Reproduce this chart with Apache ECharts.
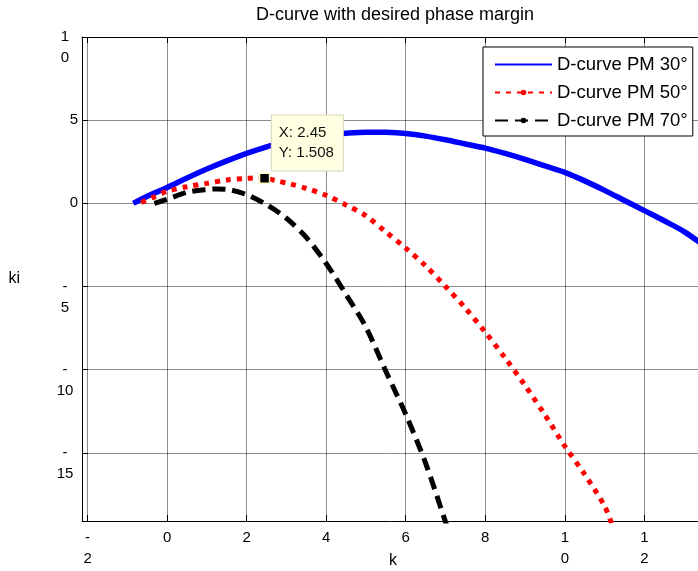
<!DOCTYPE html>
<html>
<head>
<meta charset="utf-8">
<script src="https://cdn.jsdelivr.net/npm/echarts@6/dist/echarts.min.js"></script>
<style>
html,body{margin:0;padding:0;background:#fff;}
#chart{width:698px;height:571px;}
</style>
</head>
<body>
<div id="chart"></div>
<script>
// ---- data ----
const pm30X = [-0.85, -0.5, 0, 0.5, 1, 1.5, 2, 2.5, 3, 3.5, 4, 4.5, 5, 5.5, 6, 6.5, 7, 7.5, 8, 8.5, 9, 9.5, 10, 10.5, 11, 11.5, 12, 12.5, 13, 13.6];
const pm30Y = [0, 0.42, 0.95, 1.52, 2.06, 2.55, 3.0, 3.4, 3.74, 3.98, 4.12, 4.22, 4.28, 4.27, 4.2, 4.04, 3.82, 3.57, 3.32, 3.0, 2.64, 2.25, 1.86, 1.35, 0.78, 0.17, -0.44, -1.05, -1.7, -2.72];

const pm50X = [-0.65, -0.35, 0, 0.5, 1, 1.5, 2, 2.25, 2.45, 2.75, 3.1, 3.5, 4, 4.5, 5, 5.5, 6, 6.5, 7, 7.5, 8, 8.5, 9, 9.5, 10, 10.5, 11, 11.2];
const pm50Y = [0.05, 0.36, 0.72, 1.0, 1.2, 1.4, 1.5, 1.53, 1.508, 1.36, 1.16, 0.9, 0.48, -0.1, -0.75, -1.72, -2.69, -3.76, -5.0, -6.3, -7.75, -9.3, -10.95, -12.72, -14.6, -16.3, -18.2, -19.4];

const pm70X = [-0.32, 0, 0.5, 1, 1.25, 1.5, 2, 2.5, 3, 3.5, 4, 4.5, 5, 5.5, 6, 6.5, 7, 7.05];
const pm70Y = [0, 0.24, 0.66, 0.83, 0.86, 0.84, 0.52, -0.08, -0.9, -2.05, -3.62, -5.48, -7.45, -10.1, -12.68, -15.62, -19.15, -19.5];

const seriesNames = ['D-curve PM 30°', 'D-curve PM 50°', 'D-curve PM 70°'];

const xTickValues = [-2, 0, 2, 4, 6, 8, 10, 12];
const xTickLabels = ['-\n2', '0', '2', '4', '6', '8', '1\n0', '1\n2'];
const yTickValues = [-15, -10, -5, 0, 5, 10];
const yTickLabels = ['-\n15', '-\n10', '-\n5', '0', '5', '1\n0'];

const tipX = 2.45;
const tipY = 1.508;

const xMin = -2.14, xMax = 13.5;
const yMin = -19.1, yMax = 10;

// ---- chart ----
const FONT = '"Liberation Sans", Arial, Helvetica, sans-serif';
const zip = (xs, ys) => xs.map((x, i) => [x, ys[i]]);

const chart = echarts.init(document.getElementById('chart'), null, {renderer: 'canvas'});

const xLabelFmt = v => {
  const i = xTickValues.findIndex(t => Math.abs(t - v) < 1e-9);
  return i < 0 ? '' : xTickLabels[i];
};
const yLabelFmt = v => {
  const i = yTickValues.findIndex(t => Math.abs(t - v) < 1e-9);
  if (i < 0) return '';
  const parts = yTickLabels[i].split('\n');
  if (parts.length === 1) return '\n{s|' + parts[0] + '}\n';
  return '\n' + parts[0] + '\n' + parts[1];
};

const option = {
  animation: false,
  backgroundColor: '#fff',
  title: {
    text: 'D-curve with desired phase margin',
    left: 251, top: 1,
    textStyle: {fontFamily: FONT, fontSize: 18, fontWeight: 'normal', color: '#000'}
  },
  legend: {
    orient: 'vertical',
    left: 483, top: 47,
    padding: [8, 5, 6, 11],
    itemWidth: 57, itemHeight: 7, itemGap: 9,
    backgroundColor: '#fff', borderColor: '#000', borderWidth: 1,
    textStyle: {fontFamily: FONT, fontSize: 18.5, color: '#000', lineHeight: 18},
    data: [
      {name: seriesNames[0], itemStyle: {opacity: 0}},
      {name: seriesNames[1]},
      {name: seriesNames[2]}
    ]
  },
  grid: {left: 82, top: 37, width: 622, height: 484, containLabel: false, outerBoundsMode: 'none'},
  xAxis: [{
    type: 'value', min: xMin, max: xMax,
    name: 'k', nameLocation: 'middle', nameGap: 32, nameMoveOverlap: false,
    nameTextStyle: {fontFamily: FONT, fontSize: 16, color: '#000'},
    axisLine: {show: true, onZero: false, lineStyle: {color: '#000', width: 1}},
    axisTick: {show: true, inside: true, length: 6, customValues: xTickValues, lineStyle: {color: '#000'}},
    axisLabel: {show: true, customValues: xTickValues, formatter: xLabelFmt, margin: 6,
      fontFamily: FONT, fontSize: 15, color: '#000', lineHeight: 21, align: 'center'},
    splitLine: {show: true, lineStyle: {color: 'rgba(0,0,0,0.45)', width: 1}}
  }, {
    type: 'value', min: xMin, max: xMax, position: 'top',
    axisLine: {show: true, onZero: false, lineStyle: {color: '#000', width: 1}},
    axisTick: {show: true, inside: true, length: 6, customValues: xTickValues, lineStyle: {color: '#000'}},
    axisLabel: {show: false},
    splitLine: {show: false}
  }],
  yAxis: [{
    type: 'value', min: yMin, max: yMax,
    name: 'ki', nameLocation: 'middle', nameRotate: 0, nameGap: 62, nameMoveOverlap: false,
    nameTextStyle: {fontFamily: FONT, fontSize: 16, color: '#000'},
    axisLine: {show: true, onZero: false, lineStyle: {color: '#000', width: 1}},
    axisTick: {show: true, inside: true, length: 6, customValues: yTickValues, lineStyle: {color: '#000'}},
    axisLabel: {show: true, customValues: yTickValues, formatter: yLabelFmt, margin: 17,
      fontFamily: FONT, fontSize: 15, color: '#000', lineHeight: 21, align: 'center',
      rich: {s: {fontFamily: FONT, fontSize: 15, color: '#000', lineHeight: 21, padding: [0, 0, 0, 18]}}},
    splitLine: {show: true, lineStyle: {color: 'rgba(0,0,0,0.45)', width: 1}}
  }],
  series: [{
    name: seriesNames[0], type: 'line', xAxisIndex: 0, yAxisIndex: 0,
    data: zip(pm30X, pm30Y), smooth: 0.3, symbol: 'none',
    lineStyle: {color: '#0000ff', width: 5.5},
    itemStyle: {color: '#0000ff'}
  }, {
    name: seriesNames[1], type: 'line', xAxisIndex: 0, yAxisIndex: 0,
    data: zip(pm50X, pm50Y), smooth: 0.3, symbol: 'circle', showSymbol: false,
    lineStyle: {color: '#ff0000', width: 5, type: [5, 6], cap: 'butt'},
    itemStyle: {color: '#ff0000'},
    markPoint: {
      symbol: 'rect', symbolSize: 10, silent: true,
      itemStyle: {color: '#000', borderColor: '#ffffc8', borderWidth: 1.5},
      label: {
        show: true, position: [13, -57], align: 'left', verticalAlign: 'top',
        formatter: 'X: ' + tipX + '\nY: ' + tipY,
        fontFamily: FONT, fontSize: 15, color: '#111', lineHeight: 20,
        backgroundColor: '#ffffe1', borderColor: '#d6d6c2', borderWidth: 1,
        padding: [7, 9, 8, 7]
      },
      data: [{coord: [tipX, tipY]}]
    }
  }, {
    name: seriesNames[2], type: 'line', xAxisIndex: 0, yAxisIndex: 0,
    data: zip(pm70X, pm70Y), smooth: 0.3, symbol: 'circle', showSymbol: false,
    lineStyle: {color: '#000', width: 5, type: [13, 7], cap: 'butt'},
    itemStyle: {color: '#000'}
  }]
};
chart.setOption(option);
</script>
</body>
</html>
